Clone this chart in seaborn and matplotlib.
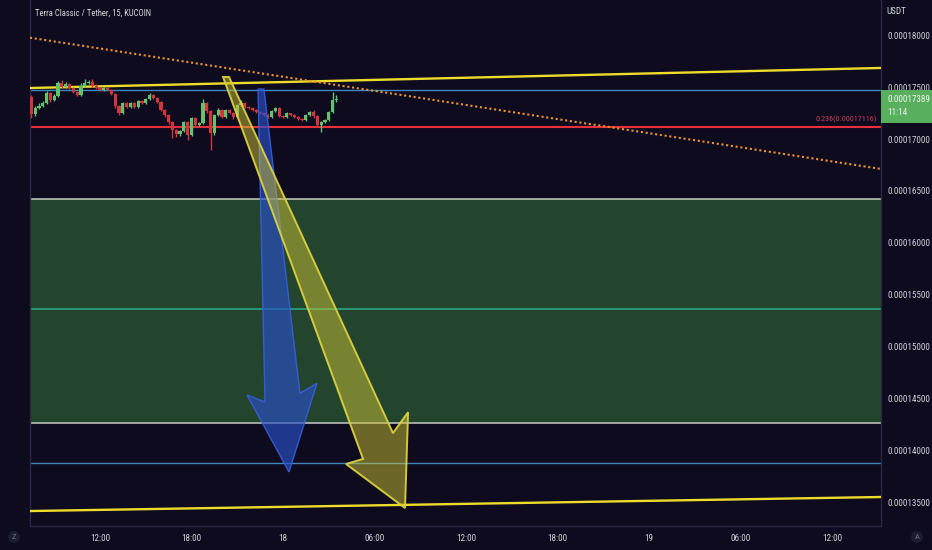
import numpy as np
import matplotlib
matplotlib.use("Agg")
import matplotlib.pyplot as plt
import matplotlib.transforms as mtransforms
from matplotlib.patches import Polygon, Rectangle
from matplotlib.ticker import FuncFormatter
import seaborn as sns

# 15 min candles (prices in 1e-8 USDT), first candle opens 17th 07:30
candle_open = [17403, 17239, 17297, 17317, 17346, 17442, 17375, 17413, 17539, 17500,
               17529, 17490, 17452, 17423, 17510, 17539, 17548, 17510, 17490, 17471,
               17490, 17471, 17432, 17317, 17249, 17346, 17307, 17346, 17307, 17365,
               17346, 17384, 17423, 17394, 17355, 17278, 17230, 17162, 17085, 17046,
               17075, 17162, 17037, 17201, 17133, 17152, 17346, 17268, 17056, 17230,
               17278, 17210, 17278, 17249, 17210, 17326, 17346, 17307, 17300, 17278,
               17259, 17249, 17230, 17210, 17268, 17297, 17220, 17215, 17249, 17230,
               17210, 17191, 17181, 17230, 17259, 17220, 17133, 17162, 17181, 17259,
               17375]
candle_close = [17239, 17297, 17317, 17346, 17442, 17375, 17413, 17539, 17500, 17529,
                17490, 17452, 17423, 17510, 17539, 17548, 17510, 17490, 17471, 17490,
                17471, 17432, 17317, 17249, 17346, 17307, 17346, 17307, 17365, 17346,
                17384, 17423, 17394, 17355, 17278, 17230, 17162, 17085, 17046, 17075,
                17162, 17037, 17201, 17133, 17152, 17346, 17268, 17056, 17230, 17278,
                17210, 17278, 17249, 17210, 17326, 17346, 17307, 17300, 17278, 17259,
                17249, 17230, 17210, 17268, 17297, 17220, 17215, 17249, 17230, 17210,
                17191, 17181, 17230, 17259, 17220, 17133, 17162, 17181, 17259, 17375,
                17389]
candle_high = [17420, 17320, 17345, 17370, 17460, 17455, 17430, 17560, 17565, 17545,
               17540, 17500, 17460, 17535, 17575, 17570, 17580, 17525, 17500, 17505,
               17500, 17480, 17440, 17325, 17360, 17355, 17360, 17355, 17380, 17375,
               17395, 17440, 17430, 17400, 17365, 17290, 17240, 17170, 17100, 17090,
               17175, 17175, 17215, 17210, 17165, 17385, 17355, 17280, 17245, 17300,
               17290, 17290, 17290, 17260, 17340, 17375, 17355, 17320, 17310, 17285,
               17270, 17260, 17240, 17280, 17310, 17305, 17230, 17260, 17255, 17240,
               17220, 17200, 17240, 17270, 17275, 17230, 17175, 17195, 17270, 17455,
               17425]
candle_low = [17201, 17220, 17285, 17305, 17335, 17360, 17365, 17405, 17490, 17495,
              17480, 17440, 17410, 17415, 17500, 17530, 17500, 17480, 17460, 17462,
              17460, 17420, 17300, 17235, 17240, 17295, 17300, 17295, 17300, 17335,
              17340, 17375, 17385, 17345, 17265, 17215, 17140, 17010, 17020, 17030,
              17065, 16990, 17025, 17120, 17125, 17140, 17255, 16890, 17040, 17220,
              17200, 17200, 17240, 17195, 17200, 17315, 17295, 17290, 17270, 17250,
              17240, 17220, 17200, 17205, 17260, 17210, 17205, 17205, 17220, 17200,
              17185, 17170, 17175, 17225, 17200, 17120, 17066, 17150, 17175, 17250,
              17360]
price_unit = 1e-8
first_candle_hour = 7.5
candle_hours_step = 0.25

last_price = 0.00017389
countdown = "11:14"
fib_price = 0.00017116
fib_label = "0.236(0.00017116)"
blue_levels = [0.00017472, 0.00013882]
zone_top = 0.00016423
zone_mid = 0.00015367
zone_bottom = 0.00014267

# hours counted from the 17th 00:00
view_hours = [7.41, 63.21]
view_prices = [0.00013276, 0.00018338]
upper_trend = [0.00017491, 0.00017684]
lower_trend = [0.00013420, 0.00013555]
falling_trend = [0.00017975, 0.00016712]

blue_arrow_hours = [22.36, 22.75, 25.11, 26.23, 24.39, 21.64, 22.82]
blue_arrow_prices = [0.00017481, 0.00017481, 0.00014554, 0.00014650, 0.00013796, 0.00014537, 0.00014469]
yellow_arrow_hours = [20.07, 20.46, 31.21, 32.20, 32.00, 28.13, 29.25]
yellow_arrow_prices = [0.00017597, 0.00017597, 0.00014170, 0.00014371, 0.00013449, 0.00013873, 0.00013921]

time_ticks = [12, 18, 24, 30, 36, 42, 48, 54, 60]
time_labels = ["12:00", "18:00", "18", "06:00", "12:00", "18:00", "19", "06:00", "12:00"]
price_ticks = [0.000135, 0.000140, 0.000145, 0.000150, 0.000155,
               0.000160, 0.000165, 0.000170, 0.000175, 0.000180]

BG = "#0e0b1f"
SEP = "#2a2740"
TXT = "#d0d2d8"
FONT = ["Roboto Condensed", "DejaVu Sans"]

sns.set_theme(style="dark")
plt.rcParams["font.family"] = FONT

fig = plt.figure(figsize=(9.32, 5.5), dpi=100, facecolor=BG)
ax = fig.add_axes([30 / 932, 24 / 550, 851 / 932, 526 / 550])
ax.set_facecolor(BG)
ax.grid(False)

# zone and horizontal levels
ax.axhspan(zone_bottom, zone_top, color="#23442d", lw=0, zorder=1)
ax.axhline(zone_top, color="#b8bfb8", lw=1.2, zorder=2)
ax.axhline(zone_bottom, color="#b8bfb8", lw=1.2, zorder=2)
ax.axhline(zone_mid, color="#2aa384", lw=1.2, zorder=2)
for lvl in blue_levels:
    ax.axhline(lvl, color="#3f86bd", lw=1.0, zorder=2)
ax.axhline(fib_price, color="#e8303a", lw=1.5, zorder=2)

# trend lines
sns.lineplot(x=view_hours, y=upper_trend, ax=ax, color="#eedc2a", lw=1.7, zorder=3)
sns.lineplot(x=view_hours, y=lower_trend, ax=ax, color="#eedc2a", lw=1.7, zorder=3)
sns.lineplot(x=view_hours, y=falling_trend, ax=ax, color="#ea952c", lw=1.5,
             linestyle=(0, (1, 1.3)), zorder=3)

# candles
o = np.array(candle_open) * price_unit
c = np.array(candle_close) * price_unit
h = np.array(candle_high) * price_unit
l = np.array(candle_low) * price_unit
t = first_candle_hour + candle_hours_step * np.arange(len(o))
colors = np.where(c >= o, "#63c26d", "#d3353f")
ax.vlines(t, l, h, colors=colors, lw=1.0, zorder=4)
body = np.maximum(np.abs(c - o), 0.6 * price_unit)
ax.bar(t, body, bottom=np.minimum(o, c), width=0.21, color=colors, lw=0, zorder=5)

# arrows
ax.add_patch(Polygon(np.column_stack([blue_arrow_hours, blue_arrow_prices]), closed=True,
                     facecolor=(0.16, 0.31, 0.78, 0.65), edgecolor=(0.22, 0.38, 0.9, 0.85),
                     lw=1.0, zorder=6))
ax.add_patch(Polygon(np.column_stack([yellow_arrow_hours, yellow_arrow_prices]), closed=True,
                     facecolor=(0.8, 0.76, 0.2, 0.5), edgecolor=(0.86, 0.82, 0.25, 0.95),
                     lw=1.4, zorder=6))

ax.set_xlim(view_hours)
ax.set_ylim(view_prices)

# axes cosmetics
ax.set_xticks(time_ticks)
ax.set_xticklabels(time_labels)
ax.set_yticks(price_ticks)
ax.yaxis.set_major_formatter(FuncFormatter(lambda v, _: f"{v:.8f}"))
ax.yaxis.tick_right()
ax.tick_params(axis="y", length=0, pad=4.5, labelsize=6.6, labelcolor=TXT)
ax.tick_params(axis="x", length=0, pad=6, labelsize=6.6, labelcolor=TXT)
for side, sp in ax.spines.items():
    sp.set_color(SEP)
    sp.set_linewidth(1.0)
ax.spines["top"].set_visible(False)

# last price label
blend = mtransforms.blended_transform_factory(ax.transAxes, ax.transData)
ax.add_patch(Rectangle((1.0, last_price - 2.35e-6), 51 / 851, 3.2e-6, transform=blend,
                       facecolor="#58b05f", edgecolor="none", clip_on=False, zorder=7))
ax.text(1.0 + 6 / 851, last_price - 0.1e-6, f"{last_price:.8f}", transform=blend,
        color="#eef6ee", fontsize=6.6, va="center", ha="left", clip_on=False, zorder=8)
ax.text(1.0 + 6 / 851, last_price - 1.35e-6, countdown, transform=blend,
        color="#eef6ee", fontsize=6.6, va="center", ha="left", clip_on=False, zorder=8)
ax.text(1.0 - 4 / 851, fib_price + 0.75e-6, fib_label, transform=blend,
        color="#c8405c", fontsize=5.8, va="center", ha="right", zorder=8)

fig.text(35 / 932, 1 - 13 / 550, "Terra Classic / Tether, 15, KUCOIN",
         color="#d6d8de", fontsize=6.2, va="center", ha="left")
fig.text(886 / 932, 1 - 12 / 550, "USDT", color="#d6d8de", fontsize=6.6, va="center", ha="left")
for xpx, letter in [(14, "Z"), (917, "A")]:
    fig.text(xpx / 932, 1 - 537 / 550, letter, color="#6e6e80", fontsize=6, ha="center",
             va="center", bbox=dict(boxstyle="circle,pad=0.35", fc="#1d1b2e", ec="none"))

fig.savefig("out.png", dpi=100, facecolor=BG)
